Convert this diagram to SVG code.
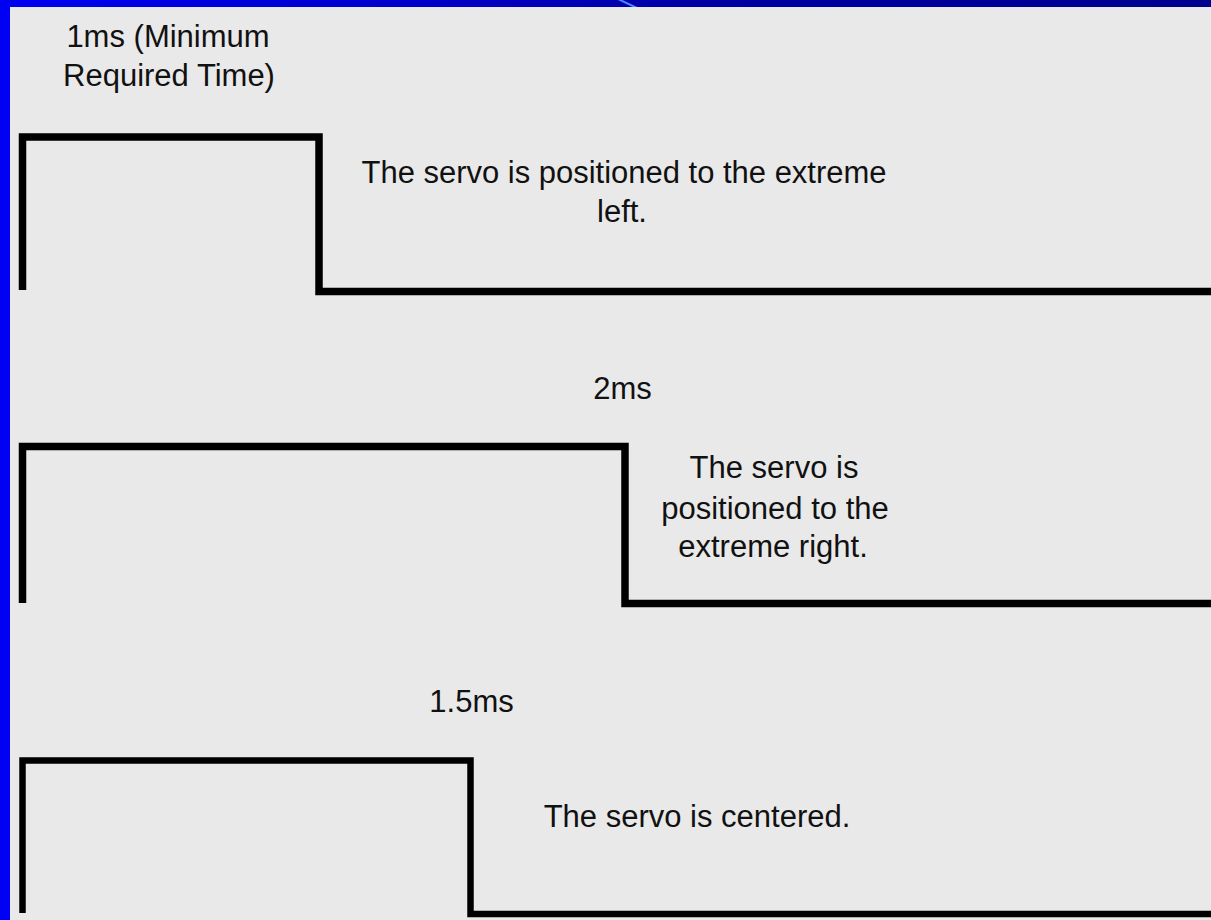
<svg xmlns="http://www.w3.org/2000/svg" width="1211" height="920" viewBox="0 0 1211 920">
  <style>
    .pulse { fill: none; stroke: #000; stroke-linejoin: miter; stroke-linecap: butt; }
    .lbl { font-family: "Liberation Sans", Arial, Helvetica, sans-serif; font-size: 31px; fill: #111; text-anchor: middle; }
  </style>
  <defs>
    <linearGradient id="topBar" x1="0" y1="0" x2="1" y2="0">
      <stop offset="0" stop-color="#0000f2"/>
      <stop offset="0.33" stop-color="#0000cc"/>
      <stop offset="0.58" stop-color="#0000a4"/>
      <stop offset="1" stop-color="#00008e"/>
    </linearGradient>
  </defs>

  <!-- slide frame -->
  <rect x="0" y="0" width="1211" height="920" fill="#0000f5"/>
  <rect x="0" y="0" width="1211" height="7" fill="url(#topBar)"/>
  <line x1="618" y1="-1" x2="637" y2="8" stroke="#4a86ff" stroke-width="2"/>
  <rect x="10" y="7" width="1201" height="913" fill="#e9e9e9"/>

  <!-- 1 ms pulse: extreme left -->
  <g id="pulse-1ms">
    <path class="pulse" stroke-width="7.5" d="M22.5,290 V137 H319 V291.5 H1211"/>
    <text class="lbl" x="168" y="47">1ms (Minimum</text>
    <text class="lbl" x="169" y="86">Required Time)</text>
    <text class="lbl" x="624" y="183" textLength="525" lengthAdjust="spacingAndGlyphs">The servo is positioned to the extreme</text>
    <text class="lbl" x="622" y="222">left.</text>
  </g>

  <!-- 2 ms pulse: extreme right -->
  <g id="pulse-2ms">
    <path class="pulse" stroke-width="7.5" d="M22.5,603 V446.5 H625 V603.5 H1211"/>
    <text class="lbl" x="622.5" y="399">2ms</text>
    <text class="lbl" x="774" y="478">The servo is</text>
    <text class="lbl" x="775" y="519">positioned to the</text>
    <text class="lbl" x="773" y="557">extreme right.</text>
  </g>

  <!-- 1.5 ms pulse: centered -->
  <g id="pulse-1-5ms">
    <path class="pulse" stroke-width="6.5" d="M22.5,913 V760.5 H470.5 V914 H1211"/>
    <text class="lbl" x="471.5" y="712">1.5ms</text>
    <text class="lbl" x="697" y="827">The servo is centered.</text>
  </g>
</svg>
